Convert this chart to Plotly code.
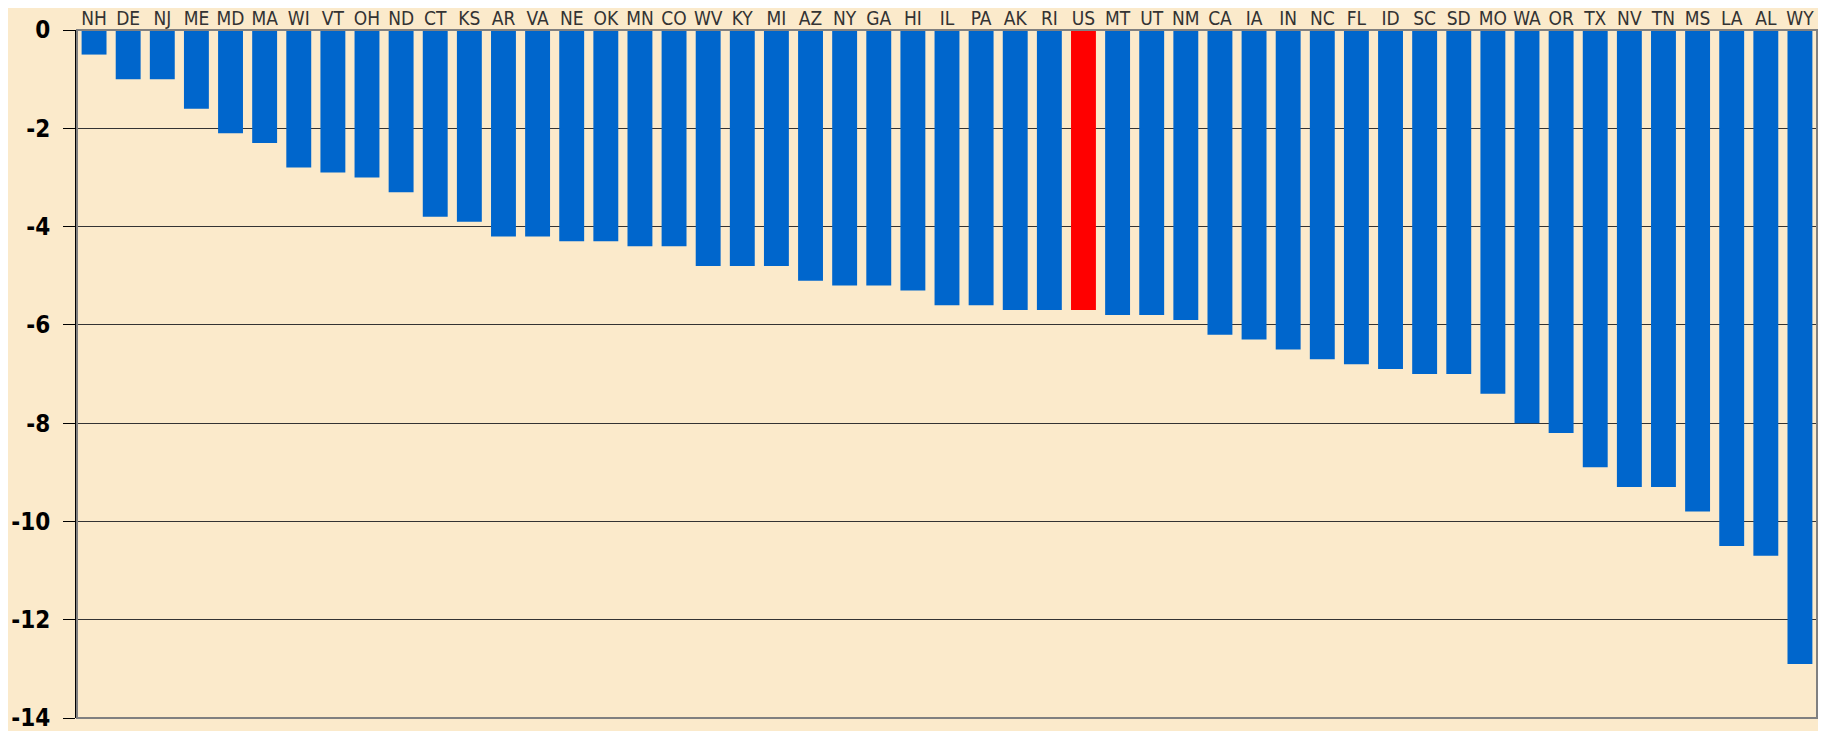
import plotly.graph_objects as go

states = ["NH", "DE", "NJ", "ME", "MD", "MA", "WI", "VT", "OH", "ND", "CT", "KS",
          "AR", "VA", "NE", "OK", "MN", "CO", "WV", "KY", "MI", "AZ", "NY", "GA",
          "HI", "IL", "PA", "AK", "RI", "US", "MT", "UT", "NM", "CA", "IA", "IN",
          "NC", "FL", "ID", "SC", "SD", "MO", "WA", "OR", "TX", "NV", "TN", "MS",
          "LA", "AL", "WY"]
values = [-0.5, -1.0, -1.0, -1.6, -2.1, -2.3, -2.8, -2.9, -3.0, -3.3, -3.8, -3.9,
          -4.2, -4.2, -4.3, -4.3, -4.4, -4.4, -4.8, -4.8, -4.8, -5.1, -5.2, -5.2,
          -5.3, -5.6, -5.6, -5.7, -5.7, -5.7, -5.8, -5.8, -5.9, -6.2, -6.3, -6.5,
          -6.7, -6.8, -6.9, -7.0, -7.0, -7.4, -8.0, -8.2, -8.9, -9.3, -9.3, -9.8,
          -10.5, -10.7, -12.9]
y_ticks = [0, -2, -4, -6, -8, -10, -12, -14]

BASE = "#0066CC"
HIGHLIGHT = "#FF0000"
colors = [HIGHLIGHT if s == "US" else BASE for s in states]

BG = "#FBEACB"
NARROW = "DejaVu Sans Condensed, Liberation Sans Narrow, Arial Narrow, sans-serif"

fig = go.Figure(go.Bar(x=states, y=values, marker=dict(color=colors, line=dict(width=0))))

fig.update_layout(
    width=1826, height=731,
    margin=dict(l=69, r=17, t=22, b=21),
    paper_bgcolor=BG, plot_bgcolor=BG,
    bargap=0.27,
    showlegend=False,
    shapes=[dict(type="rect", xref="paper", yref="paper", x0=0, x1=1, y0=0, y1=1,
                 line=dict(color="#808080", width=2), layer="above")],
)
fig.update_xaxes(
    type="category", side="top", showgrid=False, zeroline=False, showline=False,
    ticks="", automargin=False,
    tickfont=dict(family=NARROW, size=19, color="#333333"),
)
fig.update_yaxes(
    range=[-14, 0], tickvals=y_ticks, ticktext=[str(v) for v in y_ticks],
    showgrid=True, gridcolor="#333333", gridwidth=1, zeroline=False,
    showline=True, linecolor="#000000", linewidth=2,
    ticks="outside", ticklen=12, tickcolor="#000000", tickwidth=1,
    ticklabelstandoff=8, ticklabeloverflow="allow", automargin=False,
    tickfont=dict(family=NARROW, size=24, color="#000000", weight="bold"),
)

fig.write_html("out.html")
